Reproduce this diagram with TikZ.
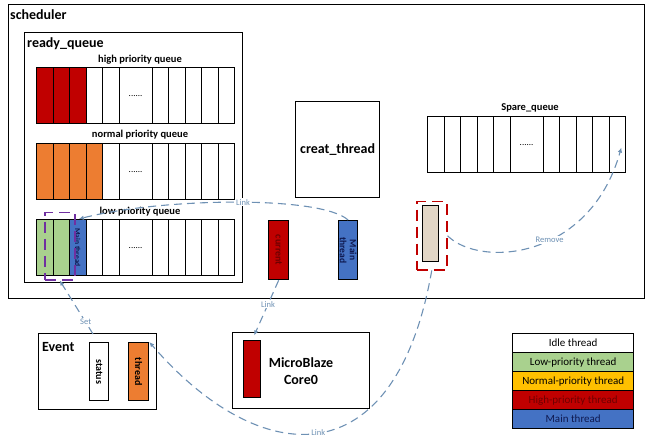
\documentclass[tikz,border=0pt]{standalone}
\usepackage{fontspec}
\setmainfont{Carlito}
\usetikzlibrary{calc,arrows.meta}
\definecolor{hired}{RGB}{192,0,0}
\definecolor{norange}{RGB}{237,125,49}
\definecolor{lgreen}{RGB}{169,209,142}
\definecolor{mblue}{RGB}{68,114,196}
\definecolor{gold}{RGB}{255,192,0}
\definecolor{beige}{RGB}{226,214,198}
\definecolor{linkc}{RGB}{110,145,180}
\definecolor{purp}{RGB}{112,48,160}
\definecolor{dred}{RGB}{110,0,0}
\definecolor{navy}{RGB}{15,25,80}
\tikzset{
 box/.style={draw, line width=1.3pt, inner sep=0, anchor=north west},
 cell/.style={draw, line width=1.1pt, inner sep=0, minimum height=56pt, anchor=north west},
 title/.style={font=\bfseries\fontsize{14}{16}\selectfont, anchor=west, inner sep=0},
 qlabel/.style={font=\bfseries\fontsize{10.5}{12}\selectfont, inner sep=0},
 link/.style={draw=linkc, line width=1.1pt, dash pattern=on 8pt off 5pt, -{Latex[length=5pt,width=4.5pt]}},
 linklab/.style={text=linkc, font=\fontsize{8.5}{9}\selectfont, fill=white, inner sep=1pt},
 vtext/.style={rotate=-90, font=\bfseries\fontsize{10}{10.5}\selectfont, align=center, inner sep=0},
 selbox/.style={line width=1.5pt, dash pattern=on 11pt off 6pt, inner sep=0, anchor=north west},
 legend/.style={draw, line width=1.3pt, minimum width=121pt, minimum height=19pt, inner sep=0, anchor=north west, font=\fontsize{11}{12}\selectfont},
}
% #1 name, #2 x0, #3 ytop, #4 nfill, #5 colour, #6 special cell, #7 special colour
\newcommand\qrow[7]{%
 \foreach \i in {1,...,11}{
  \pgfmathsetmacro\qx{#2+(\i-1)*16.5+(\i>6)*16.5}
  \pgfmathsetmacro\cw{(\i==6)?33:16.5}
  \ifnum\i>#4 \def\fc{white}\else\def\fc{#5}\fi
  \ifnum\i=#6 \def\fc{#7}\fi
  \node[cell, fill=\fc, minimum width=\cw pt] (#1\i) at (\qx,#3) {};
 }
 \node[font=\fontsize{9}{9}\selectfont] (#1dots) at (#16.center) {......};
}
\begin{document}
\begin{tikzpicture}[x=1pt,y=-1pt]
\useasboundingbox (0,0) rectangle (650,446);
% scheduler
\node[box, minimum width=636pt, minimum height=294pt] (sched) at (8,4) {};
\node[title] (schedt) at (10,15) {scheduler};
% ready queue
\node[box, minimum width=218pt, minimum height=250pt] (rq) at (24,32) {};
\node[title] (rqt) at (27,44) {ready\_queue};
\node[qlabel] (hql) at (140,60) {high priority queue};
\qrow{h}{36}{67}{3}{hired}{0}{white}
\node[qlabel] (nql) at (140,135) {normal priority queue};
\qrow{n}{36}{143}{4}{norange}{0}{white}
\node[qlabel] (lql) at (140,212) {low priority queue};
\qrow{l}{36}{219}{2}{lgreen}{3}{mblue}
\node[vtext, font=\bfseries\fontsize{7.5}{8}\selectfont, text=navy] (lmt) at (l3.center) {Main thread};
\node[selbox, draw=purp, minimum width=30pt, minimum height=67pt] (sel) at (44,212) {};
% creat_thread
\node[box, minimum width=84pt, minimum height=96pt, font=\bfseries\fontsize{14}{16}\selectfont] (ct) at (295,101) {creat\_thread};
% spare queue
\node[qlabel] (spl) at (530,108) {Spare\_queue};
\qrow{s}{427}{116}{0}{white}{0}{white}
% current and main thread
\node[box, fill=hired, minimum width=20pt, minimum height=59pt] (cur) at (268,220) {};
\node[vtext, text=dred] (curt) at (cur.center) {current};
\node[box, fill=mblue, minimum width=19pt, minimum height=59pt] (mt) at (338,220) {};
\node[vtext, text=navy, font=\bfseries\fontsize{9.5}{10}\selectfont] (mtt) at (mt.center) {Main\\thread};
% removed thread
\node[box, fill=beige, minimum width=16pt, minimum height=56pt] (bg) at (422,205) {};
\node[selbox, draw=hired, minimum width=30pt, minimum height=68pt] (rbox) at (416,201) {};
% Event
\node[box, minimum width=118pt, minimum height=76pt] (ev) at (38,333) {};
\node[title] (evt) at (42,347) {Event};
\node[box, minimum width=19pt, minimum height=58pt] (st) at (89,342) {};
\node[vtext] (stt) at (st.center) {status};
\node[box, fill=norange, minimum width=20pt, minimum height=58pt] (thr) at (128,342) {};
\node[vtext] (thrt) at (thr.center) {thread};
% MicroBlaze
\node[box, minimum width=137pt, minimum height=76pt] (mb) at (232,332) {};
\node[box, fill=hired, minimum width=17pt, minimum height=57pt] (mbbar) at (243,340) {};
\node[font=\bfseries\fontsize{14}{17}\selectfont, align=center] (mbt) at (301,371) {MicroBlaze\\Core0};
% legend
\node[legend, fill=white] (lg1) at (512,333) {Idle thread};
\node[legend, fill=lgreen] (lg2) at (512,352) {Low-priority thread};
\node[legend, fill=gold] (lg3) at (512,371) {Normal-priority thread};
\node[legend, fill=hired, text=dred] (lg4) at (512,390) {High-priority thread};
\node[legend, fill=mblue, text=navy] (lg5) at (512,409) {Main thread};
% connectors
\coordinate (mtend) at ($(l3.north)+(1,0)$);
\draw[link] (mt.north) .. controls (320,195) and (160,198) .. node[linklab, pos=0.47] (lk1) {Link} (mtend);
\draw[link, shorten >=5pt] (cur.south) -- node[linklab, pos=0.4] (lk2) {Link} (mbbar.north);
\coordinate (setstart) at (93,334);
\draw[link] (setstart) -- node[linklab, pos=0.22] (setl) {Set} (sel.south);
\draw[link] (rbox.south) .. controls (395,480) and (260,470) .. node[linklab, pos=0.5] (lk3) {Link} (thr.north east);
\coordinate (remend) at ($(s11.center)+(4,3)$);
\draw[link] (rbox.east) .. controls (480,268) and (590,260) .. node[linklab, pos=0.57] (rem) {Remove} (remend);
\end{tikzpicture}
\end{document}
